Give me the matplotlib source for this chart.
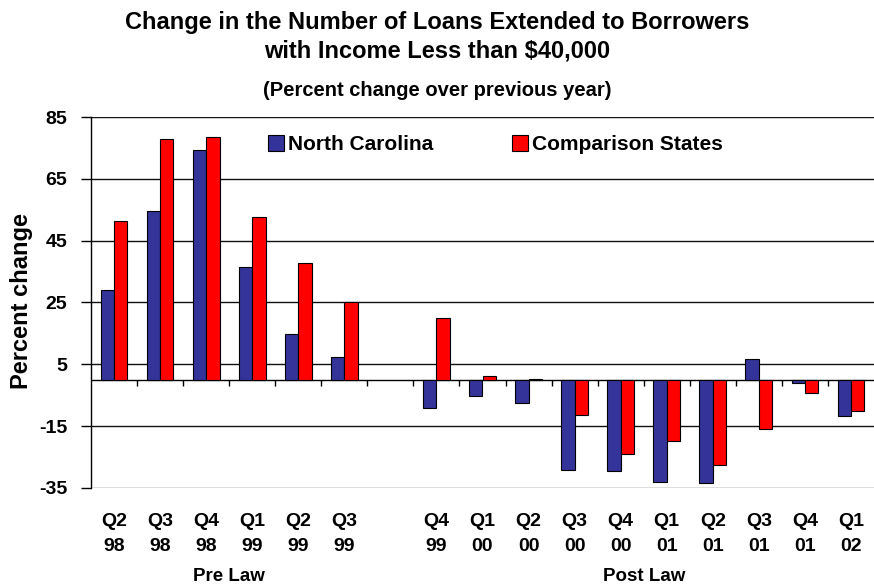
import numpy as np
import matplotlib
matplotlib.use("Agg")
import matplotlib.pyplot as plt

plt.rcParams['font.family'] = ['Liberation Sans', 'DejaVu Sans']
plt.rcParams['font.weight'] = 'bold'
plt.rcParams['axes.labelweight'] = 'bold'
plt.rcParams['axes.unicode_minus'] = False

quarters = ['Q2\n98', 'Q3\n98', 'Q4\n98', 'Q1\n99', 'Q2\n99', 'Q3\n99',
            'Q4\n99', 'Q1\n00', 'Q2\n00', 'Q3\n00', 'Q4\n00', 'Q1\n01',
            'Q2\n01', 'Q3\n01', 'Q4\n01', 'Q1\n02']
north_carolina = [29.0, 54.6, 74.3, 36.5, 14.7, 7.3,
                  -9.1, -5.1, -7.5, -29.2, -29.5, -33.0,
                  -33.3, 6.7, -0.9, -11.8]
comparison = [51.3, 77.8, 78.5, 52.7, 37.8, 25.2,
              20.0, 1.1, 0.4, -11.4, -24.0, -19.8,
              -27.4, -15.8, -4.4, -10.0]
yticks = [-35, -15, 5, 25, 45, 65, 85]
pre_law_count = 6

# one empty slot between the pre-law and post-law quarters
x = np.arange(len(quarters), dtype=float)
x[pre_law_count:] += 1
n_slots = len(quarters) + 1

fig = plt.figure(figsize=(8.74, 5.86), dpi=100)
ax = fig.add_axes([91 / 874, 98 / 586, 783 / 874, 371 / 586])

w = 0.29
ax.bar(x - w / 2, north_carolina, w, color='#333399', edgecolor='black',
       linewidth=0.8, label='North Carolina', zorder=3)
ax.bar(x + w / 2, comparison, w, color='#FF0000', edgecolor='black',
       linewidth=0.8, label='Comparison States', zorder=3)

ax.set_xlim(-0.5, n_slots - 0.5)
ax.set_ylim(-35, 85)
ax.set_yticks(yticks)
ax.tick_params(axis='y', length=7, width=1, labelsize=14, pad=10)
ax.yaxis.grid(True, color='#222222', linewidth=1)
for k, t in enumerate(yticks):
    ax.get_ygridlines()[k].set_color('#555555' if t == -35 else '#111111')
ax.set_axisbelow(True)

ax.set_xticks(x)
ax.set_xticklabels(quarters, fontsize=14, linespacing=1.62)
ax.tick_params(axis='x', length=0, pad=18)

# zero line with category separators hanging below it
ax.axhline(0, color='black', linewidth=1, zorder=2)
bounds = np.arange(1, n_slots) - 0.5
ax.vlines(bounds, -2.1, 0, color='black', linewidth=1, zorder=2)

for side in ['top', 'right', 'bottom']:
    ax.spines[side].set_visible(False)
ax.spines['left'].set_linewidth(1)

ax.set_ylabel('Percent change', fontsize=17, fontweight='bold')
ax.yaxis.set_label_coords(-0.074, 0.503)

ax.text((pre_law_count - 1) / 2, -0.238, 'Pre Law', fontsize=13.5,
        ha='center', va='center', transform=ax.get_xaxis_transform())
ax.text((x[pre_law_count] + x[-1]) / 2, -0.238, 'Post Law', fontsize=13.5,
        ha='center', va='center', transform=ax.get_xaxis_transform())

ax.legend(loc='center left', bbox_to_anchor=(0.213, 0.925), ncol=2,
          frameon=False, fontsize=15, handlelength=0.75, handleheight=0.75,
          handletextpad=0.2, columnspacing=3.8, borderpad=0)

fig.text(0.5, 1 - 23 / 586, 'Change in the Number of Loans Extended to Borrowers',
         ha='center', va='center', fontsize=17)
fig.text(0.5, 1 - 51 / 586, 'with Income Less than $40,000',
         ha='center', va='center', fontsize=17)
fig.text(0.5, 1 - 90 / 586, '(Percent change over previous year)',
         ha='center', va='center', fontsize=14.5)

fig.savefig('out.png', dpi=100)
